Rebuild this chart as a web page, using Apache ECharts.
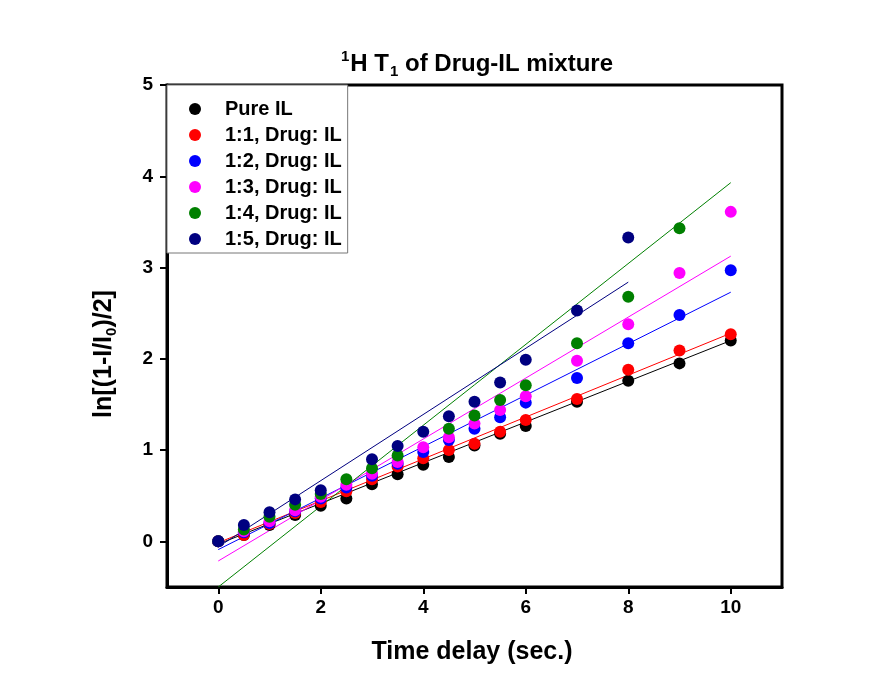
<!DOCTYPE html>
<html>
<head>
<meta charset="utf-8">
<script src="https://cdn.jsdelivr.net/npm/echarts@6/dist/echarts.min.js"></script>
<style>html,body{margin:0;padding:0;background:#fff}#c{width:893px;height:693px}</style>
</head>
<body>
<div id="c"></div>
<script>
// Time delay (sec.)
const timeDelay = [0, 0.5, 1, 1.5, 2, 2.5, 3, 3.5, 4, 4.5, 5, 5.5, 6, 7, 8, 9, 10];
const seriesNames = ['Pure IL', '1:1, Drug: IL', '1:2, Drug: IL', '1:3, Drug: IL', '1:4, Drug: IL', '1:5, Drug: IL'];
const pureIL  = [0, 0.07, 0.18, 0.29, 0.39, 0.47, 0.625, 0.735, 0.84, 0.925, 1.05, 1.18, 1.265, 1.53, 1.76, 1.95, 2.20];
const drug11  = [0, 0.07, 0.19, 0.31, 0.43, 0.55, 0.68, 0.82, 0.91, 1.00, 1.07, 1.20, 1.33, 1.56, 1.88, 2.09, 2.27];
const drug12  = [0, 0.10, 0.20, 0.33, 0.47, 0.59, 0.72, 0.85, 0.98, 1.11, 1.235, 1.36, 1.52, 1.79, 2.17, 2.48, 2.97];
const drug13  = [0, 0.11, 0.22, 0.34, 0.49, 0.62, 0.74, 0.87, 1.03, 1.14, 1.29, 1.44, 1.59, 1.98, 2.38, 2.94, 3.61];
const drug14  = [0, 0.13, 0.27, 0.40, 0.52, 0.68, 0.80, 0.94, null, 1.235, 1.38, 1.55, 1.71, 2.17, 2.68, 3.43, null];
const drug15  = [0, 0.18, 0.32, 0.46, 0.56, null, 0.90, 1.045, 1.20, 1.37, 1.53, 1.74, 1.99, 2.53, 3.33, null, null];
// linear fit lines (x range and y at the ends)
const fitX = [[0, 10], [0, 10], [0, 10], [0, 10], [0, 10], [0, 8]];
const fitY = [[-0.03, 2.20], [-0.015, 2.28], [-0.09, 2.73], [-0.215, 3.125], [-0.5, 3.93], [-0.06, 2.84]];
const colors = ['#000000', '#ff0000', '#0000ff', '#ff00ff', '#008000', '#000080'];
const xTicks = [0, 2, 4, 6, 8, 10];
const yTicks = [0, 1, 2, 3, 4, 5];

const allValues = [pureIL, drug11, drug12, drug13, drug14, drug15];
const FONT = 'Liberation Sans, Arial, sans-serif';

const series = [];
allValues.forEach((vals, i) => {
  series.push({
    name: seriesNames[i] + ' fit',
    type: 'line',
    data: fitX[i].map((x, k) => [x, fitY[i][k]]),
    showSymbol: false,
    symbol: 'none',
    lineStyle: { color: colors[i], width: 1 },
    z: 2,
    silent: true
  });
});
allValues.forEach((vals, i) => {
  series.push({
    name: seriesNames[i],
    type: 'scatter',
    data: timeDelay.map((x, k) => vals[k] == null ? null : [x, vals[k]]).filter(d => d),
    symbol: 'circle',
    symbolSize: 12,
    itemStyle: { color: colors[i], opacity: 1 },
    z: 3 + i
  });
});

const chart = echarts.init(document.getElementById('c'), null, { renderer: 'canvas' });
chart.setOption({
  animation: false,
  backgroundColor: '#fff',
  title: {
    text: '{sup|1}{b|H T}{sub|1}{b| of Drug-IL mixture}',
    left: 472, top: 44, textAlign: 'center',
    textStyle: {
      rich: {
        b: { fontSize: 24, fontWeight: 'bold', fontFamily: FONT, color: '#000', lineHeight: 30 },
        sup: { fontSize: 15, fontWeight: 'bold', fontFamily: FONT, color: '#000', verticalAlign: 'top', lineHeight: 30, padding: [0, 1, 12, 0] },
        sub: { fontSize: 15, fontWeight: 'bold', fontFamily: FONT, color: '#000', verticalAlign: 'bottom', lineHeight: 30, padding: [10, 0, 0, 1] }
      }
    }
  },
  legend: {
    data: seriesNames,
    orient: 'vertical',
    left: 167, top: 85,
    itemGap: 6,
    itemWidth: 12, itemHeight: 12,
    icon: 'circle',
    padding: [14, 6, 4, 22],
    borderColor: '#777', borderWidth: 1,
    backgroundColor: '#fff',
    itemStyle: { opacity: 1 },
    textStyle: { fontSize: 20, fontWeight: 'bold', fontFamily: FONT, color: '#000', padding: [0, 0, 0, 19] }
  },
  grid: { left: 167, right: 111, top: 85, bottom: 106, show: true, borderColor: '#000', borderWidth: 3, backgroundColor: 'transparent' },
  xAxis: {
    type: 'value', min: -1, max: 11,
    axisLine: { onZero: false, lineStyle: { color: '#000', width: 3 } },
    axisTick: { customValues: xTicks, length: 7, lineStyle: { color: '#000', width: 2 } },
    axisLabel: { customValues: xTicks, margin: 11, fontSize: 19, fontWeight: 'bold', fontFamily: FONT, color: '#000' },
    splitLine: { show: false }
  },
  yAxis: {
    type: 'value', min: -0.5, max: 5,
    axisLine: { onZero: false, lineStyle: { color: '#000', width: 3 } },
    axisTick: { customValues: yTicks, length: 7, lineStyle: { color: '#000', width: 2 } },
    axisLabel: { customValues: yTicks, margin: 14, fontSize: 19, fontWeight: 'bold', fontFamily: FONT, color: '#000' },
    splitLine: { show: false }
  },
  graphic: [
    {
      type: 'text', x: 472, y: 652,
      style: { text: 'Time delay (sec.)', font: 'bold 25px ' + FONT, fill: '#000', align: 'center', verticalAlign: 'middle' }
    },
    {
      type: 'text', x: 104, y: 354, rotation: Math.PI / 2,
      style: {
        text: '{b|ln[(1-I/I}{s|0}{b|)/2]}',
        align: 'center', verticalAlign: 'middle',
        rich: {
          b: { font: 'bold 25px ' + FONT, fill: '#000', lineHeight: 30 },
          s: { font: 'bold 15px ' + FONT, fill: '#000', verticalAlign: 'bottom', lineHeight: 30, padding: [8, 0, 0, 0] }
        }
      }
    }
  ],
  series: series
});
</script>
</body>
</html>
